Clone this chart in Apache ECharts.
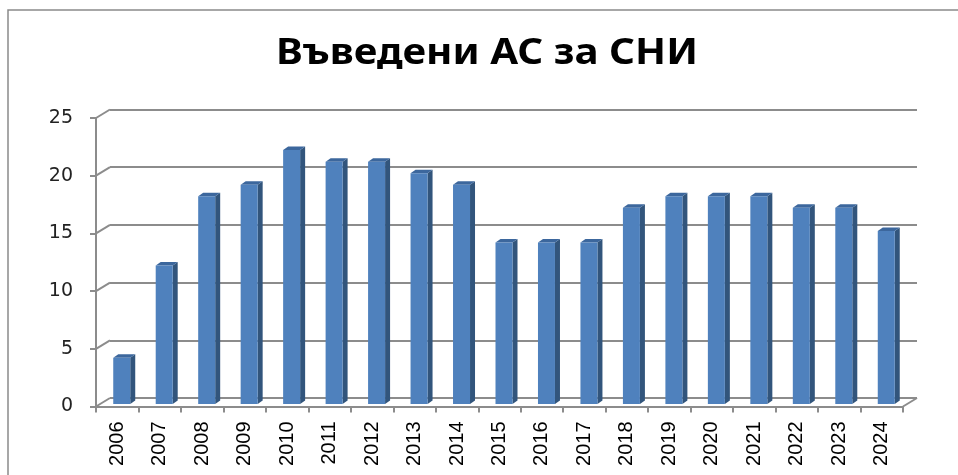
<!DOCTYPE html>
<html>
<head>
<meta charset="utf-8">
<script src="https://cdn.jsdelivr.net/npm/echarts@6/dist/echarts.min.js"></script>
<style>
  html, body { margin: 0; padding: 0; background: #fff; }
  #chart { width: 958px; height: 475px; }
</style>
</head>
<body>
<div id="chart"></div>
<script>
var years = ['2006', '2007', '2008', '2009', '2010', '2011', '2012', '2013', '2014', '2015',
             '2016', '2017', '2018', '2019', '2020', '2021', '2022', '2023', '2024'];
var counts = [4, 12, 18, 19, 22, 21, 21, 20, 19, 14, 14, 14, 17, 18, 18, 18, 17, 17, 15];
var yTicks = [0, 5, 10, 15, 20, 25];

// depth of the fake 3d wall
var DX = 14, DY = 8.5;
var gridColor = '#8c8c8c';

function renderBar(params, api) {
  var top = api.coord([api.value(0), api.value(1)]);
  var base = api.coord([api.value(0), 0]);
  var w = 17, sx = 5, sy = 3.5;
  var x0 = top[0] + 4.5 - w / 2, x1 = x0 + w;
  var yT = top[1] - 2.5, yB = base[1] - 2.5;
  return {
    type: 'group',
    children: [
      { type: 'polygon', shape: { points: [[x1, yT], [x1 + sx, yT - sy], [x1 + sx, yB - sy], [x1, yB]] },
        style: { fill: '#32557c' } },
      { type: 'polygon', shape: { points: [[x0, yT], [x0 + sx, yT - sy], [x1 + sx, yT - sy], [x1, yT]] },
        style: { fill: '#3c679d' } },
      { type: 'rect', shape: { x: x0, y: yT, width: w, height: yB - yT }, style: { fill: '#4f81bd' } }
    ]
  };
}

function renderDiag(params, api) {
  var p = api.coord([0, api.value(1)]);
  var cs = params.coordSys;
  var lines = [{ type: 'line', shape: { x1: cs.x, y1: p[1], x2: cs.x + DX, y2: p[1] - DY },
                 style: { stroke: gridColor, lineWidth: 2 } }];
  if (api.value(1) === 0) {
    lines.push({ type: 'line', shape: { x1: cs.x + cs.width, y1: p[1], x2: cs.x + cs.width + DX, y2: p[1] - DY },
                 style: { stroke: gridColor, lineWidth: 2 } });
  }
  return { type: 'group', children: lines };
}

var chart = echarts.init(document.getElementById('chart'));
chart.setOption({
  animation: false,
  graphic: [
    { type: 'rect', shape: { x: 8, y: 10, width: 1000, height: 500 },
      style: { fill: 'none', stroke: '#8a8a8a', lineWidth: 1.5 }, z: -1 },
    { type: 'text', x: 487, y: 54, scaleX: 1.12,
      style: { text: 'Въведени АС за СНИ', textAlign: 'center', textVerticalAlign: 'middle',
               font: 'bold 36px "Noto Sans"', fill: '#000' } }
  ],
  grid: [
    { left: 96 + DX, right: 958 - 903 - DX, top: 118 - DY, bottom: 68.5 + DY },
    { left: 96, right: 958 - 903, top: 118, bottom: 68.5 }
  ],
  xAxis: [
    { gridIndex: 0, type: 'category', data: years, show: false },
    { gridIndex: 1, type: 'category', data: years,
      axisLine: { lineStyle: { color: gridColor, width: 2 } },
      axisTick: { show: true, interval: 0, length: 6, lineStyle: { color: gridColor, width: 2 } },
      axisLabel: { interval: 0, rotate: 90, margin: 15, color: '#000',
                   fontFamily: 'Liberation Sans', fontSize: 20 } }
  ],
  yAxis: [
    { gridIndex: 0, type: 'value', min: 0, max: 25, interval: 5,
      axisLine: { show: false }, axisTick: { show: false }, axisLabel: { show: false },
      splitLine: { lineStyle: { color: gridColor, width: 2 } } },
    { gridIndex: 1, type: 'value', min: 0, max: 25, interval: 5,
      axisLine: { show: true, lineStyle: { color: gridColor, width: 2 } },
      axisTick: { show: true, length: 6, lineStyle: { color: gridColor, width: 2 } },
      splitLine: { show: false },
      axisLabel: { margin: 23, color: '#222', fontFamily: 'DejaVu Sans', fontSize: 19 } }
  ],
  series: [
    { type: 'custom', xAxisIndex: 1, yAxisIndex: 1, renderItem: renderDiag,
      data: yTicks.map(function (v) { return [0, v]; }), silent: true },
    { type: 'custom', xAxisIndex: 1, yAxisIndex: 1, renderItem: renderBar,
      data: counts.map(function (v, i) { return [i, v]; }), z: 5 }
  ]
});
</script>
</body>
</html>
